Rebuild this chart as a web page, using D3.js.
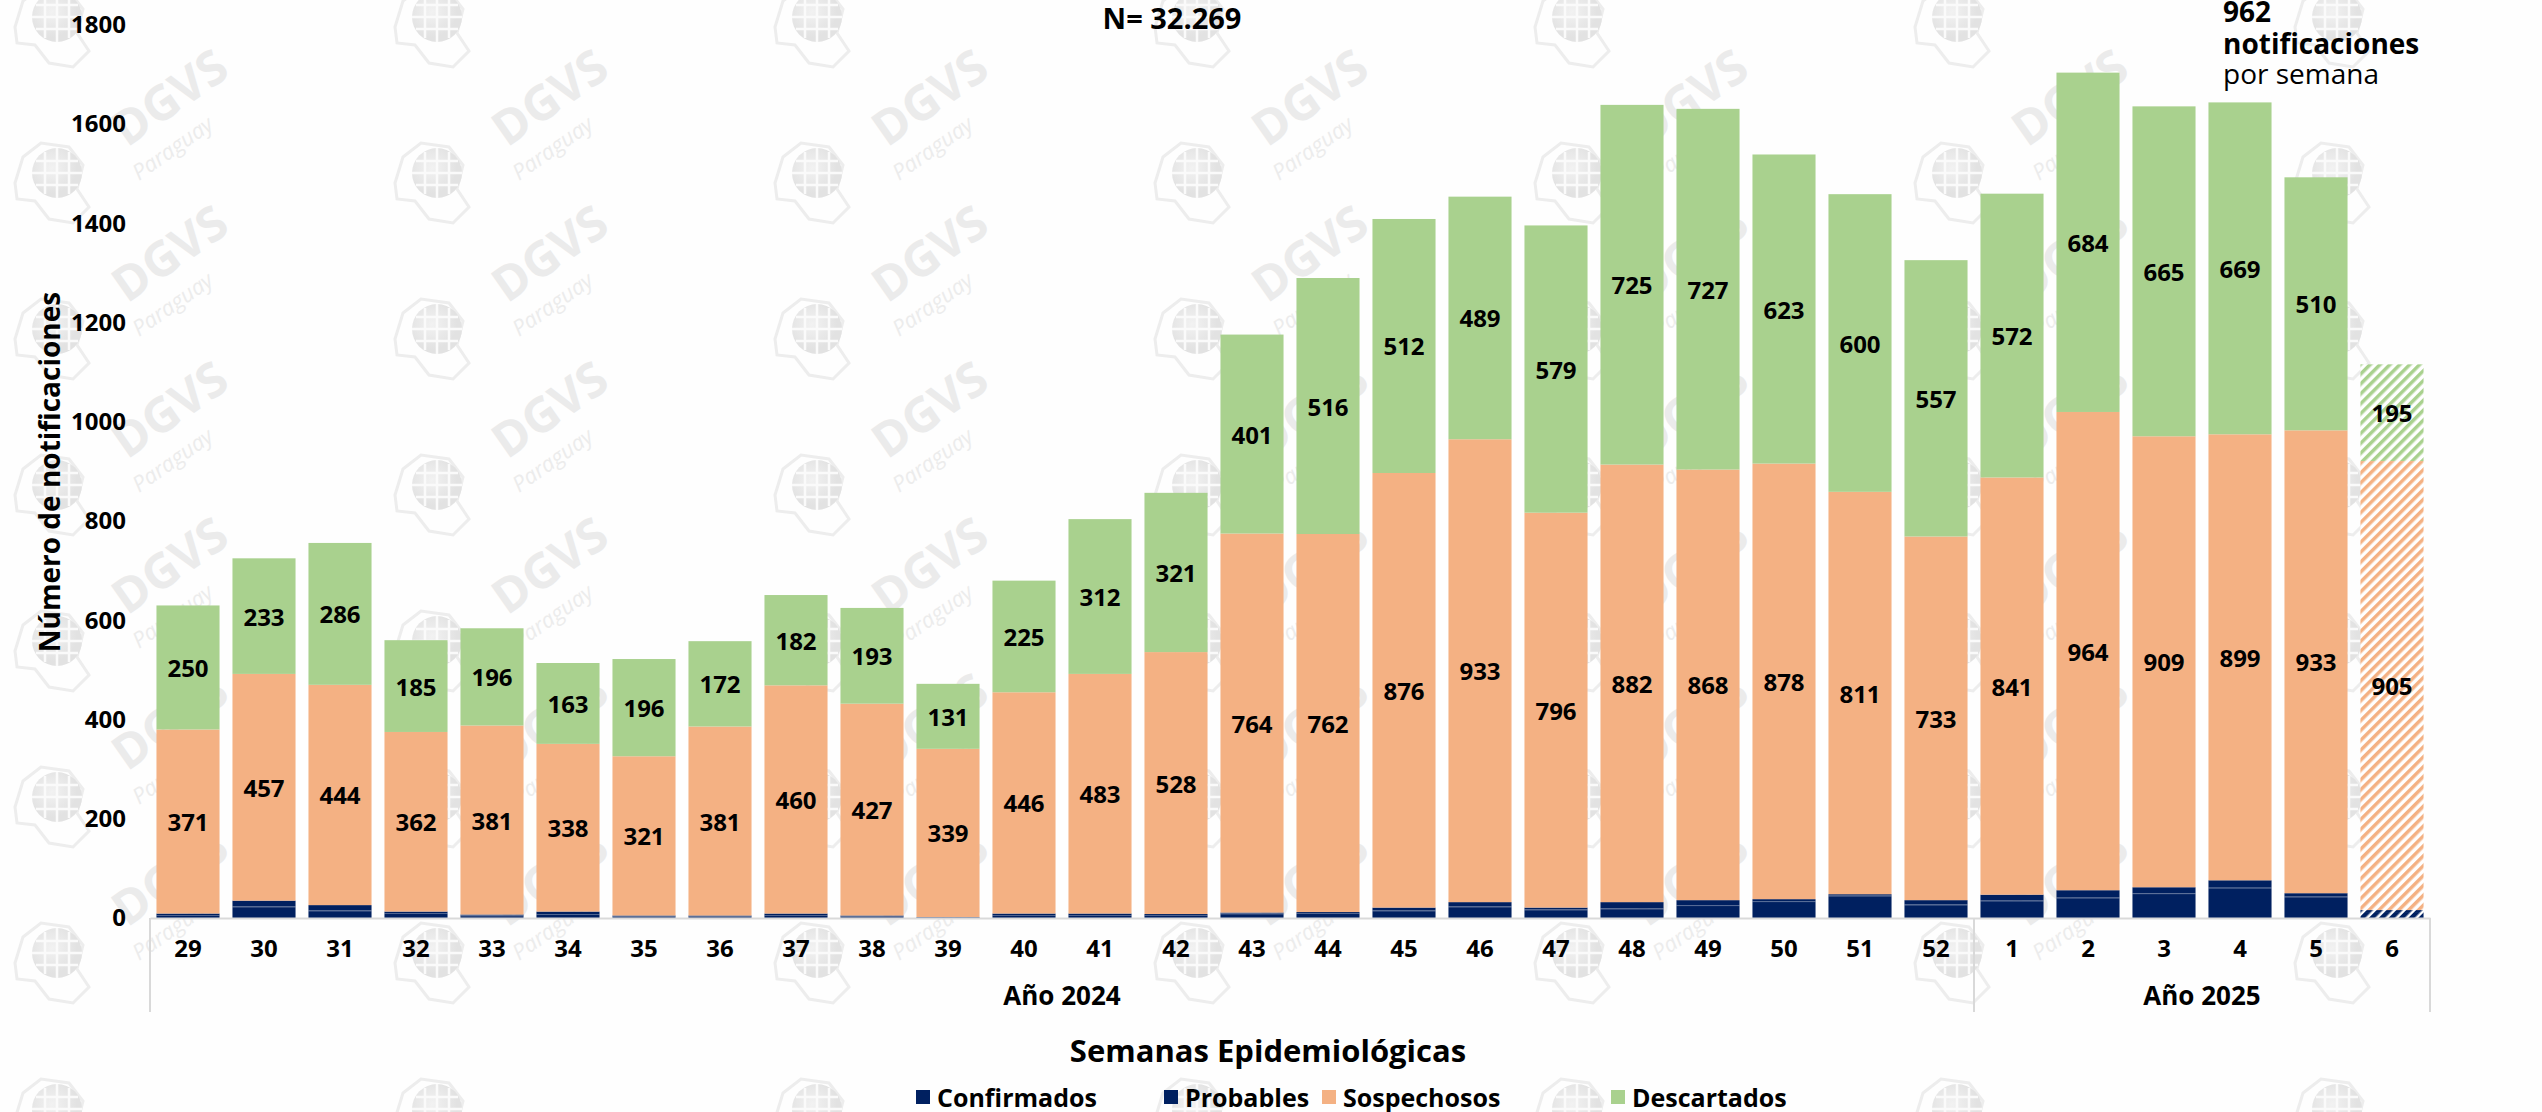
<!DOCTYPE html>
<html>
<head>
<meta charset="utf-8">
<script src="https://cdn.jsdelivr.net/npm/d3@7"></script>
<style>
  body { margin: 0; background: #fefefe; }
  svg { display: block; }
  text { font-family: 'Open Sans', 'DejaVu Sans', sans-serif; }
</style>
</head>
<body>
<svg id="chart" width="2542" height="1112"></svg>
<script>
// semanas epidemiologicas 29/2024 .. 6/2025
const semanas = ['29','30','31','32','33','34','35','36','37','38','39','40','41','42','43','44','45','46','47','48','49','50','51','52','1','2','3','4','5','6'];
const anios = ['Año 2024','Año 2024','Año 2024','Año 2024','Año 2024','Año 2024','Año 2024','Año 2024','Año 2024','Año 2024','Año 2024','Año 2024','Año 2024','Año 2024','Año 2024','Año 2024','Año 2024','Año 2024','Año 2024','Año 2024','Año 2024','Año 2024','Año 2024','Año 2024','Año 2025','Año 2025','Año 2025','Año 2025','Año 2025','Año 2025'];
const confirmados = [6,23,15,10,5,8,3,3,6,3,1,6,6,6,9,10,15,23,17,19,26,34,45,27,35,41,50,61,43,12];
const probables   = [3,12,11,3,2,5,2,2,3,2,1,3,3,2,2,2,6,9,4,13,10,4,3,9,12,15,12,15,7,4];
const sospechosos = [371,457,444,362,381,338,321,381,460,427,339,446,483,528,764,762,876,933,796,882,868,878,811,733,841,964,909,899,933,905];
const descartados = [250,233,286,185,196,163,196,172,182,193,131,225,312,321,401,516,512,489,579,725,727,623,600,557,572,684,665,669,510,195];
const semanaParcial = '6'; // ultima semana en curso (rayada)
const yTicks = [0,200,400,600,800,1000,1200,1400,1600,1800];
const series = ['confirmados','probables','sospechosos','descartados'];
const leyenda = ['Confirmados','Probables','Sospechosos','Descartados'];
const colores = ['#002060','#002060','#f4b183','#a9d18e'];

var svg = d3.select("#chart");
var W = 2542, H = 1112;

var tabla = semanas.map(function(s, i) {
  return { semana: s, anio: anios[i], confirmados: confirmados[i], probables: probables[i],
           sospechosos: sospechosos[i], descartados: descartados[i] };
});

var x = d3.scaleBand().domain(semanas).range([150, 2430]).paddingInner(0.17).paddingOuter(0.085);
var y = d3.scaleLinear().domain([0, 1800]).range([918, 25]);

// patrones rayados para la semana parcial
var defs = svg.append("defs");
colores.forEach(function(c, i) {
  var p = defs.append("pattern")
    .attr("id", "hatch" + i)
    .attr("patternUnits", "userSpaceOnUse")
    .attr("width", 7).attr("height", 7)
    .attr("patternTransform", "rotate(45)");
  p.append("rect").attr("width", 7).attr("height", 7).attr("fill", "#ffffff");
  p.append("rect").attr("width", i < 2 ? 4.5 : 3.5).attr("height", 7).attr("fill", c);
});
var grad = defs.append("radialGradient").attr("id", "globo").attr("cx", "40%").attr("cy", "40%");
grad.append("stop").attr("offset", "0%").attr("stop-color", "#f2f2f2");
grad.append("stop").attr("offset", "100%").attr("stop-color", "#e2e2e2");

// marcas de agua DGVS (solo el texto que cabe entero)
var wm = svg.append("g").attr("class", "watermark");
for (var gx = 57; gx < 2600; gx += 380) {
  for (var gy = 17; gy < 1200; gy += 156) {
    var g = wm.append("g").attr("transform", "translate(" + gx + "," + gy + ")");
    g.append("path")
      .attr("d", "M-42,10 L-34,-16 L-16,-30 L12,-26 L26,-8 L20,16 L32,34 L16,50 L-8,46 L-22,28 L-40,26 Z")
      .attr("fill", "none").attr("stroke", "#ededed").attr("stroke-width", 3);
    g.append("circle").attr("r", 25).attr("fill", "url(#globo)");
    g.append("path").attr("d", "M-25,0 H25 M0,-25 V25 M-21,-12 H21 M-21,12 H21 M-12,-21 V21 M12,-21 V21")
      .attr("stroke", "#fafafa").attr("stroke-width", 2.5);
    if (gy - 150 > 0 && gy + 20 < H && gx + 220 < W) {
      g.append("text").attr("transform", "translate(70,-25) rotate(-35)")
        .attr("font-size", 48).attr("font-weight", 700).attr("fill", "#ebebeb").text("DGVS");
      g.append("text").attr("transform", "translate(82,8) rotate(-35)")
        .attr("font-size", 22).attr("font-style", "italic").attr("font-family", "DejaVu Serif")
        .attr("fill", "#ececec").text("Paraguay");
    }
  }
}

// barras apiladas
var stack = d3.stack().keys(series);
var capas = stack(tabla);

var capa = svg.append("g").selectAll("g")
  .data(capas)
  .enter().append("g");

capa.selectAll("rect")
  .data(function(d) { return d.map(function(v) { return { key: d.key, idx: d.index, v: v }; }); })
  .enter().append("rect")
  .attr("x", function(d) { return x(d.v.data.semana); })
  .attr("y", function(d) { return y(d.v[1]); })
  .attr("width", x.bandwidth())
  .attr("height", function(d) { return y(d.v[0]) - y(d.v[1]); })
  .attr("fill", function(d) {
    return d.v.data.semana === semanaParcial ? "url(#hatch" + d.idx + ")" : colores[d.idx];
  });

// linea fina entre confirmados y probables
svg.append("g").selectAll("line")
  .data(capas[0].filter(function(d) { return d.data.semana !== semanaParcial; }))
  .enter().append("line")
  .attr("x1", function(d) { return x(d.data.semana); })
  .attr("x2", function(d) { return x(d.data.semana) + x.bandwidth(); })
  .attr("y1", function(d) { return y(d[1]) + 0.5; })
  .attr("y2", function(d) { return y(d[1]) + 0.5; })
  .attr("stroke", "#ffffff").attr("stroke-opacity", 0.3).attr("stroke-width", 1);

// etiquetas de valores
[2, 3].forEach(function(k) {
  svg.append("g").selectAll("text")
    .data(capas[k])
    .enter().append("text")
    .attr("x", function(d) { return x(d.data.semana) + x.bandwidth() / 2; })
    .attr("y", function(d) { return (y(d[0]) + y(d[1])) / 2; })
    .attr("text-anchor", "middle")
    .attr("dominant-baseline", "central")
    .attr("font-size", 24).attr("font-weight", 700).attr("fill", "#000")
    .text(function(d) { return d[1] - d[0]; });
});

// eje Y
var ejeY = svg.append("g")
  .attr("transform", "translate(150,0)")
  .call(d3.axisLeft(y).tickValues(yTicks).tickFormat(d3.format("d")).tickSize(0).tickPadding(24));
ejeY.select(".domain").remove();
ejeY.selectAll("text").attr("font-size", 24).attr("font-weight", 700).attr("fill", "#000")
  .style("font-family", "'Open Sans', sans-serif");

// eje X
var ejeX = svg.append("g")
  .attr("transform", "translate(0,918)")
  .call(d3.axisBottom(x).tickSize(0).tickSizeOuter(0).tickPadding(22));
ejeX.select(".domain").attr("stroke", "#d9d9d9").attr("stroke-width", 2);
ejeX.selectAll("text").attr("font-size", 24).attr("font-weight", 700).attr("fill", "#000")
  .style("font-family", "'Open Sans', sans-serif");

// separadores y etiquetas de año
var gap = x.step() - x.bandwidth();
var grupos = d3.groups(tabla, function(d) { return d.anio; });
var sep = svg.append("g");
grupos.forEach(function(gr) {
  var x0 = x(gr[1][0].semana) - gap / 2;
  var x1 = x(gr[1][gr[1].length - 1].semana) + x.bandwidth() + gap / 2;
  [x0, x1].forEach(function(xx) {
    sep.append("line").attr("x1", xx).attr("x2", xx).attr("y1", 918).attr("y2", 1012)
      .attr("stroke", "#d9d9d9").attr("stroke-width", 2);
  });
  sep.append("text").attr("x", (x0 + x1) / 2).attr("y", 1005)
    .attr("text-anchor", "middle").attr("font-size", 26).attr("font-weight", 700)
    .text(gr[0]);
});

// titulos de ejes
svg.append("text")
  .attr("transform", "translate(49,472) rotate(-90)")
  .attr("text-anchor", "middle").attr("dominant-baseline", "central")
  .attr("font-size", 28).attr("font-weight", 700)
  .text("Número de notificaciones");

svg.append("text")
  .attr("x", 1268).attr("y", 1062)
  .attr("text-anchor", "middle").attr("font-size", 31).attr("font-weight", 700)
  .text("Semanas Epidemiológicas");

// total
svg.append("text")
  .attr("x", 1172).attr("y", 29)
  .attr("text-anchor", "middle").attr("font-size", 29).attr("font-weight", 700)
  .text("N= 32.269");

// promedio semanal
var nota = svg.append("text").attr("x", 2223).attr("font-size", 28);
nota.append("tspan").attr("x", 2223).attr("y", 22).attr("font-weight", 700).text("962");
nota.append("tspan").attr("x", 2223).attr("y", 54).attr("font-weight", 700).text("notificaciones");
nota.append("tspan").attr("x", 2223).attr("y", 84).attr("font-weight", 400).text("por semana");

// leyenda
var legX = [916, 1164, 1322, 1611];
var leg = svg.append("g").selectAll("g")
  .data(leyenda)
  .enter().append("g")
  .attr("transform", function(d, i) { return "translate(" + legX[i] + ",1097)"; });
leg.append("rect").attr("x", 0).attr("y", -7).attr("width", 14).attr("height", 14)
  .attr("fill", function(d, i) { return colores[i]; });
leg.append("text").attr("x", 21).attr("dominant-baseline", "central")
  .attr("font-size", 25).attr("font-weight", 700)
  .text(function(d) { return d; });
</script>
</body>
</html>
